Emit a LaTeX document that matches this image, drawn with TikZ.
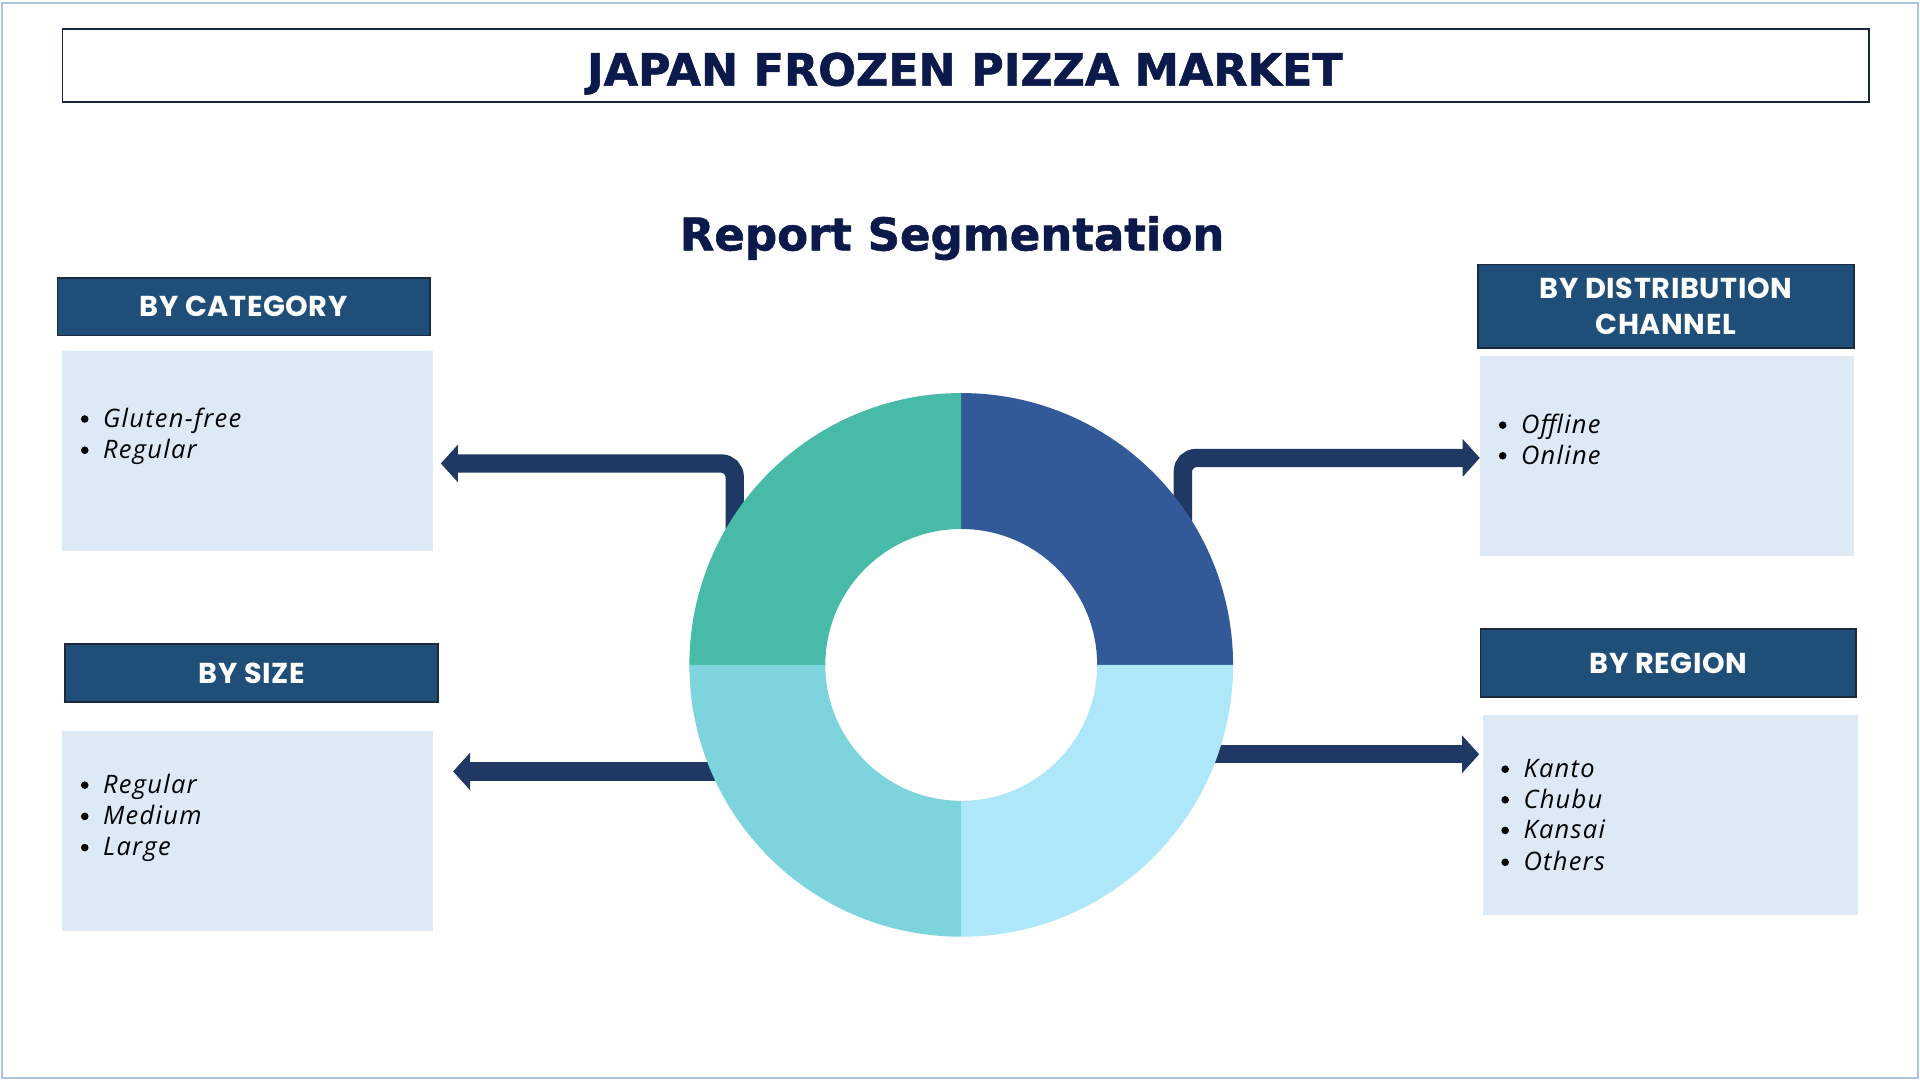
\documentclass[tikz,border=0pt]{standalone}
\usepackage{fontspec}
\usepackage{graphicx}
\usetikzlibrary{arrows.meta,calc}
\newfontfamily\ttlfont{DejaVu Sans}[FakeBold=1.3]
\newfontfamily\hdrfont{Poppins}[LetterSpace=2]
\newfontfamily\itmfont{Open Sans}[LetterSpace=5]
\definecolor{framec}{HTML}{AAC5DD}
\definecolor{navy}{HTML}{0C1A4B}
\definecolor{boxline}{HTML}{1A2540}
\definecolor{hdrfill}{HTML}{1F4E79}
\definecolor{hdrline}{HTML}{1B2A3D}
\definecolor{cntfill}{HTML}{DEE9F6}
\definecolor{arrowc}{HTML}{1F3864}
\definecolor{donTR}{HTML}{325A98}
\definecolor{donTL}{HTML}{48BAA8}
\definecolor{donBL}{HTML}{7ED4DC}
\definecolor{donBR}{HTML}{AEE6FA}
\newcommand\itm[1]{\makebox[0pt][c]{\tikz[baseline=0pt]\fill[black] (0pt,6.8pt) circle[radius=3.1pt];}\hspace{15pt}{\itshape #1}}
\begin{document}
\begin{tikzpicture}[x=1pt,y=-1pt,
  hdr/.style={draw=hdrline, line width=1.5pt, fill=hdrfill, text=white,
    font=\hdrfont\bfseries\fontsize{23.5}{29}\selectfont, align=center, inner sep=0pt},
  cnt/.style={fill=cntfill, draw=none, inner sep=0pt},
  itemtxt/.style={anchor=base west, inner sep=0pt, text=black,
    font=\itmfont\fontsize{20.8}{25}\selectfont},
  arr/.style={draw=arrowc, line width=15pt, rounded corners=11pt,
    -{Triangle[length=14pt,width=30pt]}},
  ttl/.style={text=navy, font=\ttlfont\bfseries, inner sep=0pt, text depth=0pt}]
\useasboundingbox (0,0) rectangle (1568,882);
\fill[white] (0,0) rectangle (1568,882);
\draw[framec, line width=2pt] (1.5,2.5) rectangle (1566.5,880.5);

% title
\node[draw=boxline, line width=1.5pt, fill=white, minimum width=1475pt, minimum height=59pt, inner sep=0pt] (titlebox) at (788.5,53.5) {};
\node[ttl, font=\ttlfont\bfseries\fontsize{36.3}{40}\selectfont, text height=26.6pt] (title) at (788,56.6) {JAPAN FROZEN PIZZA MARKET};
\node[ttl, font=\ttlfont\bfseries\fontsize{36.8}{40}\selectfont, text height=26.6pt] (subtitle) at (777.5,191.2) {Report Segmentation};

% headers
\node[hdr, minimum width=304pt, minimum height=47pt, text height=16.6pt, text depth=0pt] (cathdr) at (199,250.5) {BY CATEGORY};
\node[hdr, minimum width=305pt, minimum height=47pt, text height=16.6pt, text depth=0pt] (sizehdr) at (205.5,549.5) {BY SIZE};
\node[hdr, minimum width=307pt, minimum height=68pt] (disthdr) at (1360.5,250) {BY DISTRIBUTION\\CHANNEL};
\node[hdr, minimum width=307pt, minimum height=55pt, text height=16.6pt, text depth=0pt] (reghdr) at (1362.5,541.5) {BY REGION};

% content boxes
\node[cnt, minimum width=303pt, minimum height=163pt] (catbox) at (202.5,368.5) {};
\node[cnt, minimum width=303pt, minimum height=163pt] (sizebox) at (202.5,678.5) {};
\node[cnt, minimum width=305pt, minimum height=163pt] (distbox) at (1361.5,372.5) {};
\node[cnt, minimum width=306pt, minimum height=163pt] (regbox) at (1364,665.5) {};

% items
\node[itemtxt] (cat1) at (69,349) {\itm{Gluten-free}};
\node[itemtxt] (cat2) at (69,374.5) {\itm{Regular}};
\node[itemtxt] (size1) at (69,648) {\itm{Regular}};
\node[itemtxt] (size2) at (69,673.5) {\itm{Medium}};
\node[itemtxt] (size3) at (69,699) {\itm{Large}};
\node[itemtxt] (dist1) at (1227,354) {\itm{Offline}};
\node[itemtxt] (dist2) at (1227,379) {\itm{Online}};
\node[itemtxt] (reg1) at (1229,635) {\itm{Kanto}};
\node[itemtxt] (reg2) at (1229,660) {\itm{Chubu}};
\node[itemtxt] (reg3) at (1229,685) {\itm{Kansai}};
\node[itemtxt] (reg4) at (1229,711) {\itm{Others}};

% connectors (drawn behind the donut)
\coordinate (C) at (785,543);
\coordinate (a1s) at (600,432);
\coordinate (a1e) at (360,378.5);
\coordinate (a2s) at (966,432);
\coordinate (a2e) at (1208.5,374);
\coordinate (a3s) at (640,630);
\coordinate (a3e) at (370,630);
\coordinate (a4s) at (930,616);
\coordinate (a4e) at (1208,616);
\draw[arr] (a1s) |- (a1e);
\draw[arr] (a2s) |- (a2e);
\draw[arr] (a3s) -- (a3e);
\draw[arr] (a4s) -- (a4e);

% donut
\fill[donTR] ($(C)+(270:222)$) arc[start angle=270,end angle=360,radius=222] -- ($(C)+(0:111)$) arc[start angle=360,end angle=270,radius=111] -- cycle;
\fill[donTL] ($(C)+(180:222)$) arc[start angle=180,end angle=270,radius=222] -- ($(C)+(270:111)$) arc[start angle=270,end angle=180,radius=111] -- cycle;
\fill[donBL] ($(C)+(90:222)$) arc[start angle=90,end angle=180,radius=222] -- ($(C)+(180:111)$) arc[start angle=180,end angle=90,radius=111] -- cycle;
\fill[donBR] ($(C)+(0:222)$) arc[start angle=0,end angle=90,radius=222] -- ($(C)+(90:111)$) arc[start angle=90,end angle=0,radius=111] -- cycle;
\end{tikzpicture}
\end{document}
